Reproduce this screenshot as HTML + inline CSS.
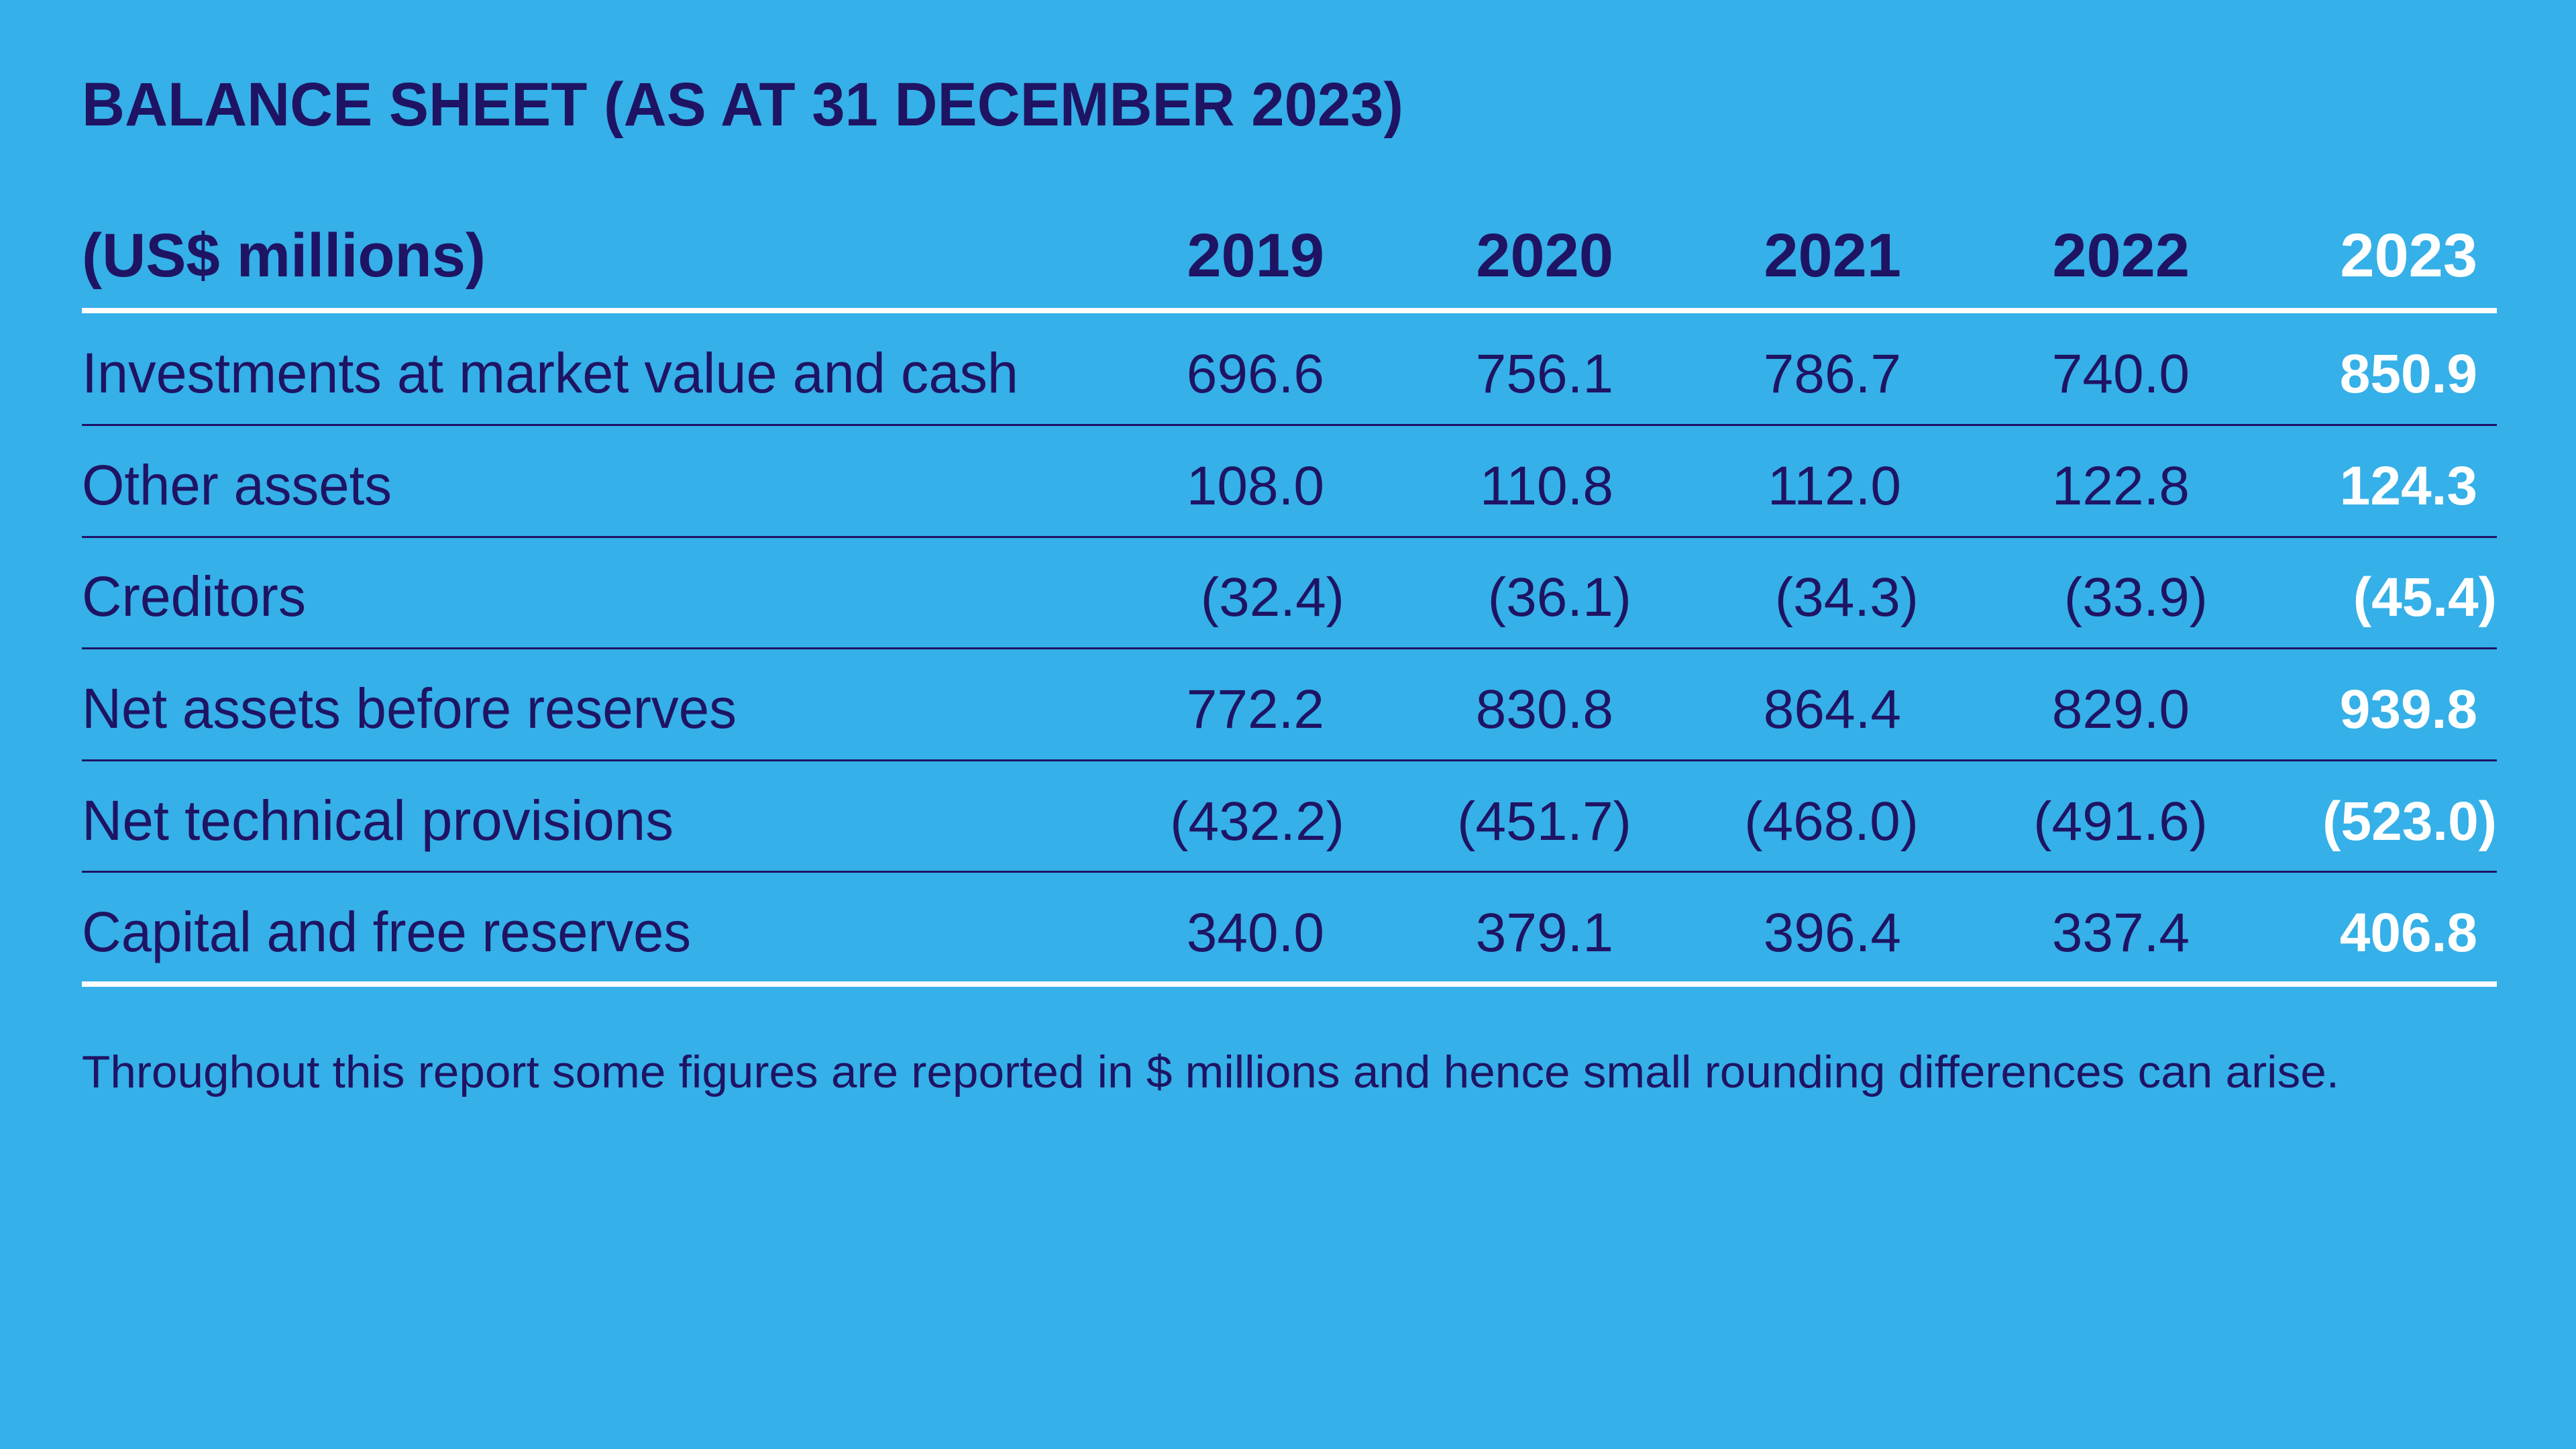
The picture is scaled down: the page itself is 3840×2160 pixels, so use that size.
<!DOCTYPE html>
<html><head><meta charset="utf-8"><style>
html,body{margin:0;padding:0;background:#35b0e8;}
svg{display:block;}
text{font-family:"Liberation Sans",sans-serif;}
</style></head><body>
<svg width="3840" height="2160" viewBox="0 0 3840 2160" xmlns="http://www.w3.org/2000/svg">
<rect width="3840" height="2160" fill="#35b0e8"/>
<g fill="#1f1464">
<text x="122" y="187" font-size="92" font-weight="bold" textLength="1970" lengthAdjust="spacingAndGlyphs">BALANCE SHEET (AS AT 31 DECEMBER 2023)</text>
<text x="122" y="412" font-size="92" font-weight="bold" textLength="602" lengthAdjust="spacingAndGlyphs">(US$ millions)</text>
<g font-size="92" font-weight="bold" text-anchor="end">
<text x="1974" y="412">2019</text>
<text x="2405" y="412">2020</text>
<text x="2834" y="412">2021</text>
<text x="3264" y="412">2022</text>
<text x="3693" y="412" fill="#ffffff">2023</text>
</g>
<g font-size="84">
<text x="122" y="585" textLength="1396" lengthAdjust="spacingAndGlyphs">Investments at market value and cash</text>
<text x="122" y="752" textLength="462" lengthAdjust="spacingAndGlyphs">Other assets</text>
<text x="122" y="918" textLength="334" lengthAdjust="spacingAndGlyphs">Creditors</text>
<text x="122" y="1085" textLength="976" lengthAdjust="spacingAndGlyphs">Net assets before reserves</text>
<text x="122" y="1252" textLength="882" lengthAdjust="spacingAndGlyphs">Net technical provisions</text>
<text x="122" y="1418" textLength="908" lengthAdjust="spacingAndGlyphs">Capital and free reserves</text>
</g>
<g font-size="82" text-anchor="end">
<text x="1974" y="585">696.6</text><text x="2405" y="585">756.1</text><text x="2834" y="585">786.7</text><text x="3264" y="585">740.0</text>
<text x="1974" y="752">108.0</text><text x="2405" y="752">110.8</text><text x="2834" y="752">112.0</text><text x="3264" y="752">122.8</text>
<text x="2004" y="918">(32.4)</text><text x="2432" y="918">(36.1)</text><text x="2860" y="918">(34.3)</text><text x="3291" y="918">(33.9)</text>
<text x="1974" y="1085">772.2</text><text x="2405" y="1085">830.8</text><text x="2834" y="1085">864.4</text><text x="3264" y="1085">829.0</text>
<text x="2004" y="1252">(432.2)</text><text x="2432" y="1252">(451.7)</text><text x="2860" y="1252">(468.0)</text><text x="3291" y="1252">(491.6)</text>
<text x="1974" y="1418">340.0</text><text x="2405" y="1418">379.1</text><text x="2834" y="1418">396.4</text><text x="3264" y="1418">337.4</text>
</g>
<g font-size="82" font-weight="bold" text-anchor="end" fill="#ffffff">
<text x="3693" y="585">850.9</text>
<text x="3693" y="752">124.3</text>
<text x="3722" y="918">(45.4)</text>
<text x="3693" y="1085">939.8</text>
<text x="3722" y="1252">(523.0)</text>
<text x="3693" y="1418">406.8</text>
</g>
<text x="122" y="1621" font-size="68" textLength="3365" lengthAdjust="spacingAndGlyphs">Throughout this report some figures are reported in $ millions and hence small rounding differences can arise.</text>
</g>
<rect x="122" y="459" width="3600" height="8" fill="#ffffff"/>
<g fill="#1f1464">
<rect x="122" y="632" width="3600" height="3"/>
<rect x="122" y="799" width="3600" height="3"/>
<rect x="122" y="965" width="3600" height="3"/>
<rect x="122" y="1132" width="3600" height="3"/>
<rect x="122" y="1298" width="3600" height="3"/>
</g>
<rect x="122" y="1463" width="3600" height="8" fill="#ffffff"/>
</svg>
</body></html>
